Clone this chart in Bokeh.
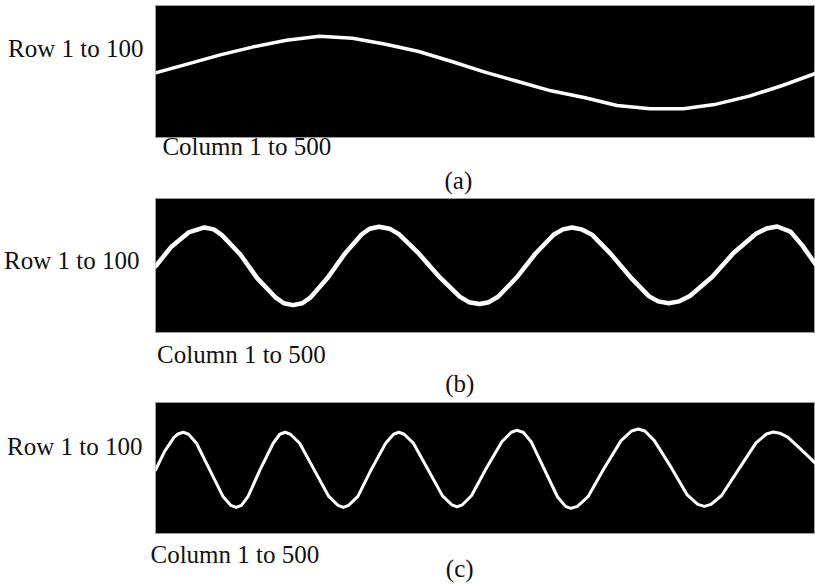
from bokeh.plotting import figure
from bokeh.layouts import column
from bokeh.models import Range1d, LinearAxis, FixedTicker
from bokeh.embed import file_html
from bokeh.resources import INLINE

# Panel (a): one slow cycle
cols_a = [1, 25, 50, 75, 100, 125, 150, 175, 200, 225, 250, 275, 300, 325, 350, 375, 400, 425, 450, 475, 500]
rows_a = [51.5, 45, 38, 32, 27, 24, 25.5, 30, 35.5, 43, 51, 58, 65, 70, 76, 78.5, 78.5, 75, 69, 61, 52]

# Panel (b): three and a half cycles
cols_b = [1, 13, 26, 38, 45, 51, 65, 78, 92, 98, 105, 112, 118, 131, 144, 157, 163, 170,
          178, 185, 200, 216, 231, 238, 246, 253, 260, 274, 288, 302, 309, 316,
          323, 331, 345, 360, 374, 381, 389, 397, 405, 422, 438, 455, 463, 471, 481, 490, 500]
rows_b = [51.2, 36.6, 26.1, 22.4, 23.8, 27.9, 42.2, 60.0, 74.3, 78.4, 79.8, 78.4, 74.3, 59.8, 41.9, 27.4, 23.3, 21.9,
          23.3, 27.35, 41.6, 59.3, 73.5, 77.6, 79.0, 77.6, 73.6, 59.4, 42.0, 27.8, 23.8, 22.4,
          23.8, 27.7, 41.75, 59.05, 73.1, 77.0, 78.4, 77.0, 73.0, 58.8, 41.3, 27.1, 23.1, 21.7, 25.4, 35.65, 49.6]

# Panel (c): about six cycles
cols_c = [1, 8, 15, 18, 22, 26, 32, 42, 52, 58, 62, 66, 71, 80, 90, 95, 99, 103,
          110, 121, 132, 139, 143, 147, 154, 164, 175, 181, 185, 189, 196, 207, 218, 225, 229, 233,
          240, 251, 263, 270, 274, 279, 285, 295, 305, 311, 315, 320, 328, 340, 353, 361, 366, 371,
          378, 391, 403, 411, 416, 421, 429, 442, 455, 463, 468, 473, 479, 490, 500]
rows_c = [52, 37.7, 27.3, 24.8, 23.5, 25.0, 31.8, 51.9, 72.0, 78.8, 80.3, 78.8, 72.0, 51.9, 31.8, 25.0, 23.5, 25.0,
          31.8, 51.9, 72.0, 78.8, 80.3, 78.8, 72.0, 51.9, 31.8, 25.0, 23.5, 25.0, 31.75, 51.65, 71.55, 78.3, 79.8, 78.3,
          71.3, 50.9, 30.5, 23.5, 22, 23.5, 30.6, 51.5, 72.4, 79.5, 81, 79.5, 72.2, 51, 29.8, 22.5, 21, 22.5,
          29.6, 50.25, 70.9, 78, 79.5, 78, 71.3, 51.4, 31.5, 24.8, 23.3, 24.2, 27.1, 37.4, 47]

row_label = "Row 1 to 100"
col_label = "Column 1 to 500"
panel_tags = ["(a)", "(b)", "(c)"]

FONT = "Liberation Serif"


def text_axis(tick, text, standoff):
    return LinearAxis(ticker=FixedTicker(ticks=[tick]), major_label_overrides={tick: text},
                      major_label_standoff=standoff, major_tick_out=0, major_tick_in=0,
                      axis_line_color=None, major_tick_line_color=None, minor_tick_line_color=None,
                      major_label_text_font=FONT, major_label_text_font_size="25px",
                      major_label_text_color="#111111")


def panel(xs, ys, tag, height, left, top, lw, row_tick, row_so, col_tick, col_so, tag_tick, tag_so):
    p = figure(width=815, height=height, output_backend="svg", toolbar_location=None,
               x_axis_type=None, y_axis_type=None,
               x_range=Range1d(1, 500), y_range=Range1d(100, 1),
               min_border_left=left, min_border_right=0,
               min_border_top=top, min_border_bottom=0)
    p.background_fill_color = "black"
    p.border_fill_color = "white"
    p.outline_line_color = "#9a9a9a"
    p.grid.visible = False
    p.line(xs, ys, line_color="white", line_width=lw, line_join="round", line_cap="round")
    p.add_layout(text_axis(row_tick, row_label, row_so), "left")
    p.add_layout(text_axis(col_tick, col_label, col_so), "below")
    p.add_layout(text_axis(tag_tick, tag, tag_so), "below")
    return p


pa = panel(cols_a, rows_a, panel_tags[0], 196, 155, 5, 3.5, 33, 12, 70, -5, 230, 4)
pb = panel(cols_b, rows_b, panel_tags[1], 203, 152, 2, 4.5, 47, 16, 66, 8, 231, -1)
pc = panel(cols_c, rows_c, panel_tags[2], 185, 151, 3, 3, 34, 13, 61, 7, 231, -16)

layout = column(pa, pb, pc, spacing=0)
open("out.html", "w").write(file_html(layout, INLINE))
